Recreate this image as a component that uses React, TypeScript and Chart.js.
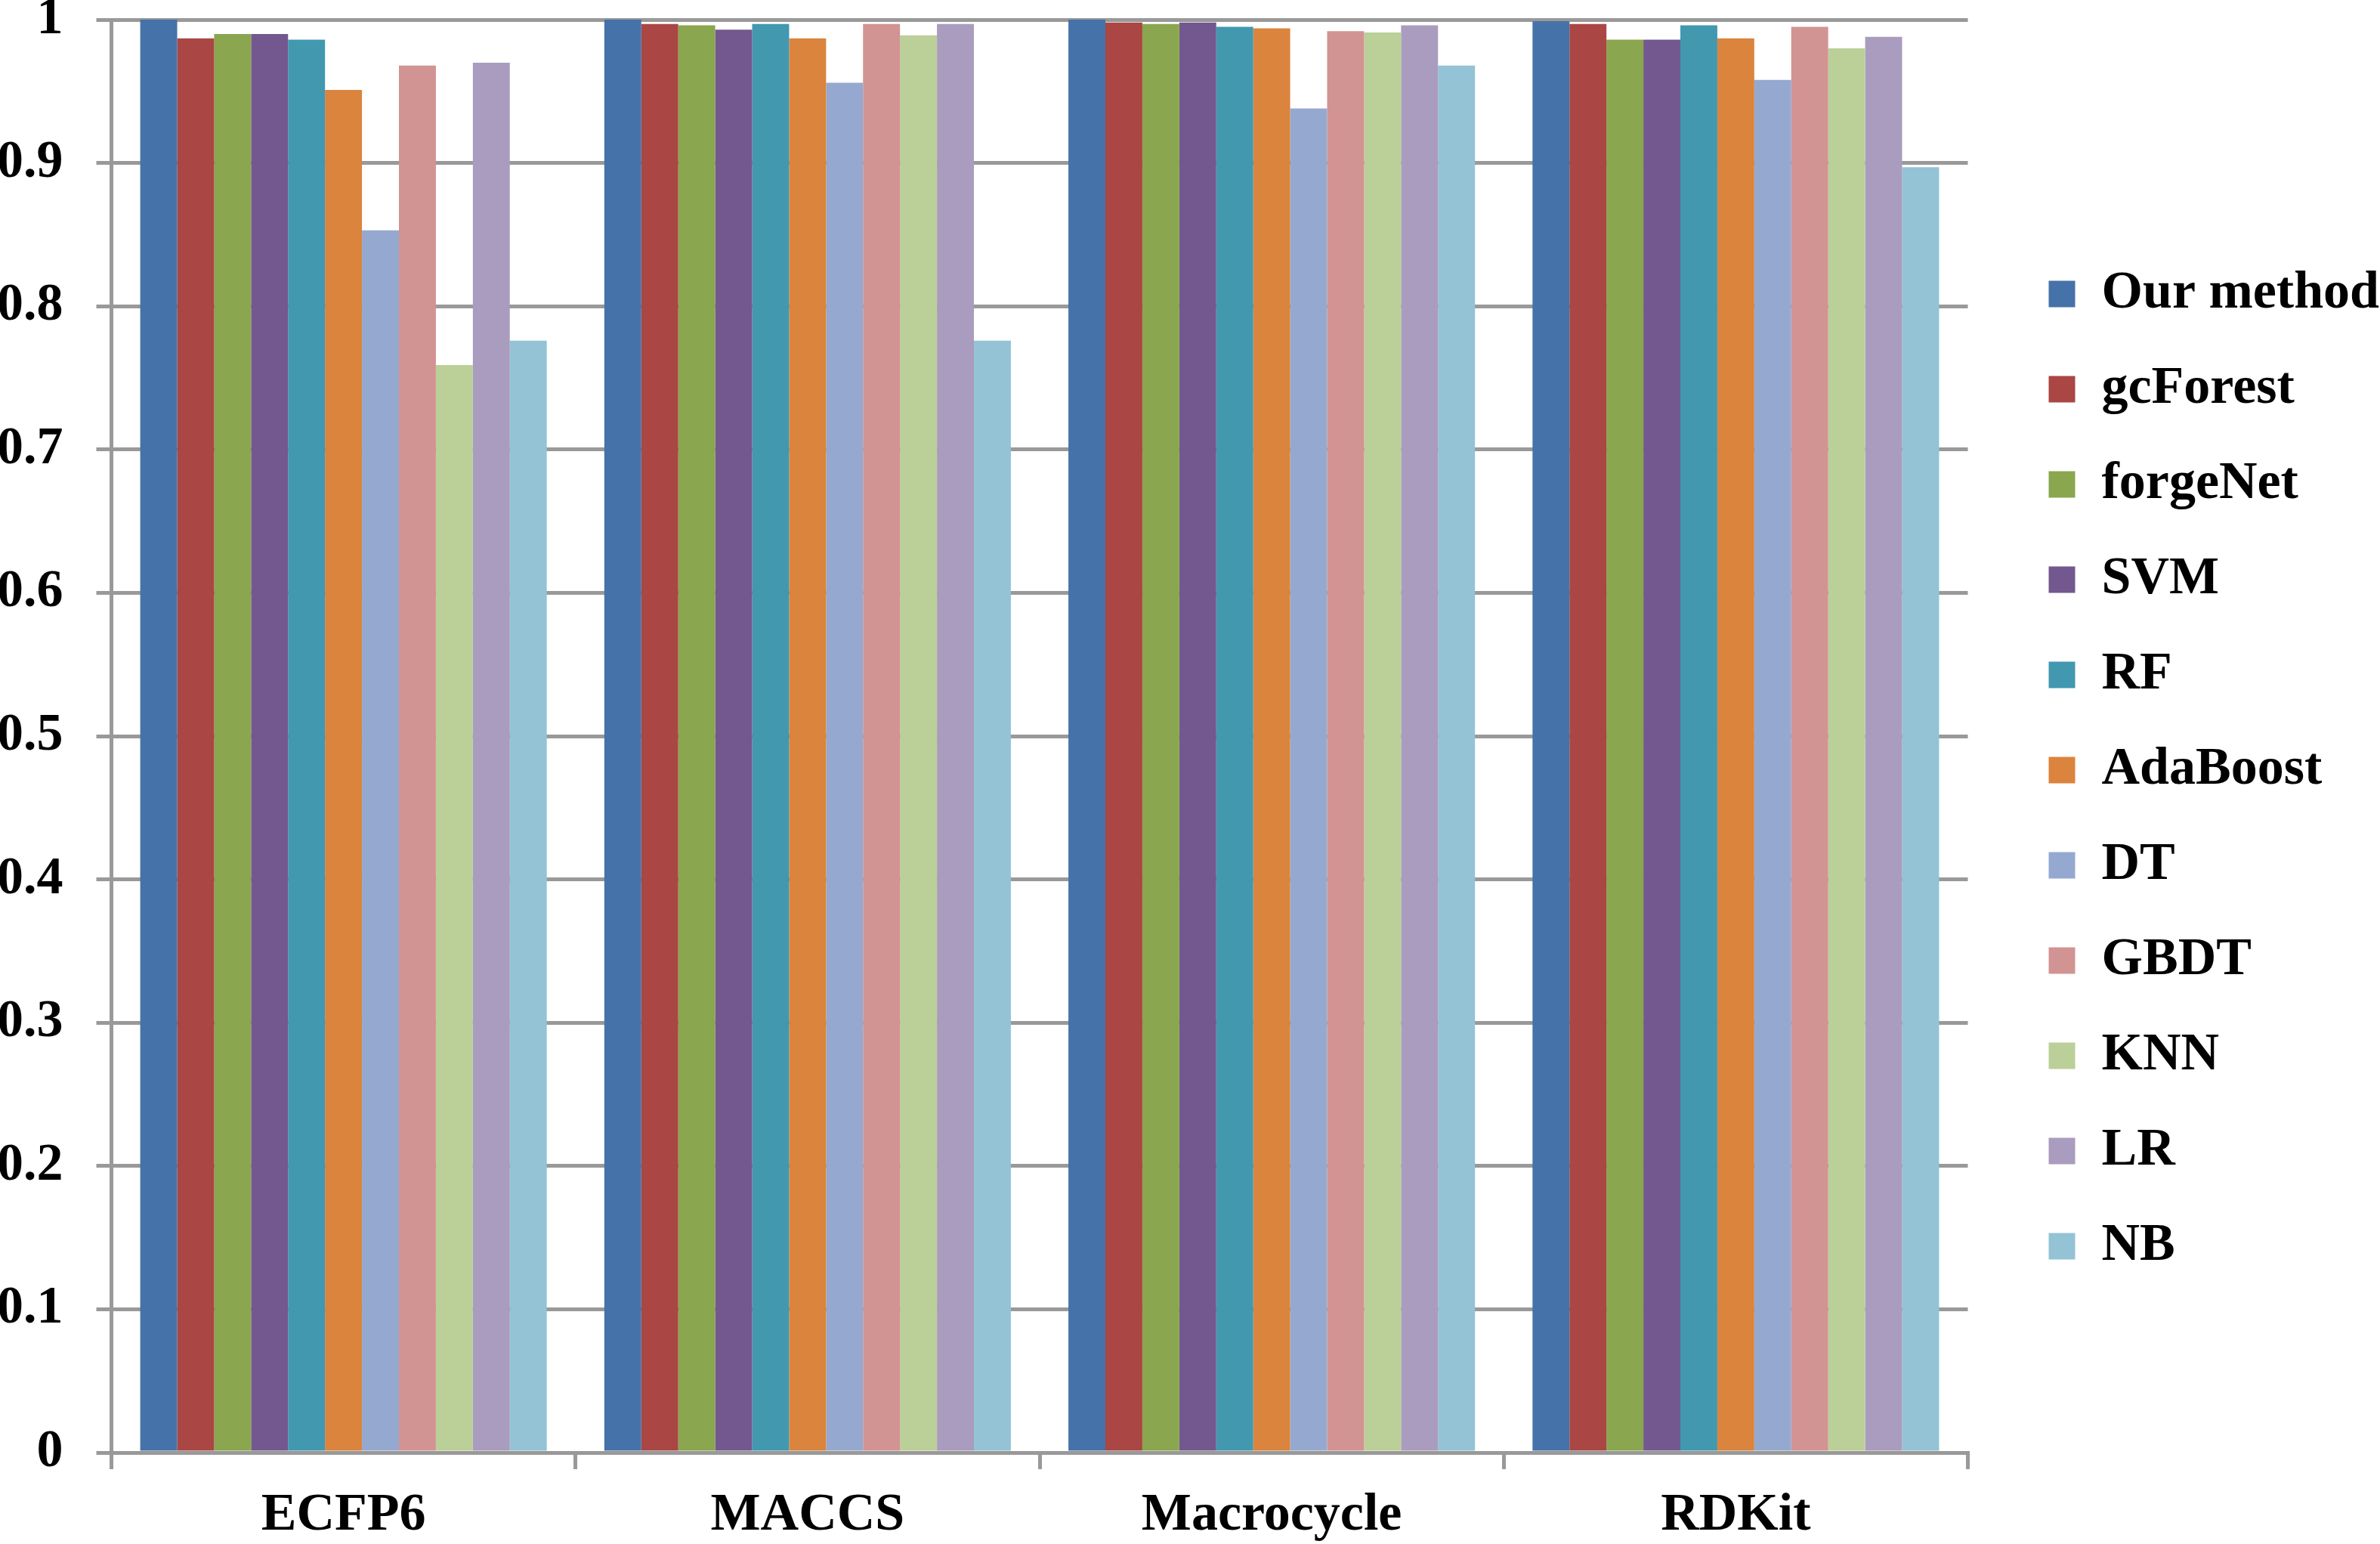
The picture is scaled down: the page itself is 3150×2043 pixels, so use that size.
import React, { useEffect, useRef } from "react";
import { Chart, registerables } from "chart.js";

Chart.register(...registerables);

const categories = ["ECFP6", "MACCS", "Macrocycle", "RDKit"];
const methods = ["Our method", "gcForest", "forgeNet", "SVM", "RF", "AdaBoost", "DT", "GBDT", "KNN", "LR", "NB"];

const ourMethod = [1.0, 1.0, 1.0, 0.999];
const gcForest = [0.987, 0.997, 0.998, 0.997];
const forgeNet = [0.99, 0.996, 0.997, 0.986];
const svm = [0.99, 0.993, 0.998, 0.986];
const rf = [0.986, 0.997, 0.995, 0.996];
const adaBoost = [0.951, 0.987, 0.994, 0.987];
const dt = [0.853, 0.956, 0.938, 0.958];
const gbdt = [0.968, 0.997, 0.992, 0.995];
const knn = [0.759, 0.989, 0.991, 0.98];
const lr = [0.97, 0.997, 0.996, 0.988];
const nb = [0.776, 0.776, 0.968, 0.897];

const seriesValues = [ourMethod, gcForest, forgeNet, svm, rf, adaBoost, dt, gbdt, knn, lr, nb];
const colors = ["#4572a8", "#aa4644", "#8aa64e", "#72588f", "#4198af", "#db843d", "#95a9d0", "#d29393", "#bbcf98", "#aa9cbe", "#93c3d5"];

const gray = "#999999";
const font = { family: "'Liberation Serif', 'Times New Roman', serif", size: 70, weight: "bold" as const };

const App = () => {
  const chartRef: any = useRef(null);
  const chartInstance: any = useRef(null);

  useEffect(() => {
    if (chartRef.current) {
      const ctx = chartRef.current.getContext("2d");
      chartInstance.current = new Chart(ctx, {
        type: "bar",
        data: {
          labels: categories,
          datasets: methods.map((m, i) => ({
            label: m,
            data: seriesValues[i],
            backgroundColor: colors[i],
            borderWidth: 0,
            categoryPercentage: 0.876,
            barPercentage: 1,
          })),
        },
        options: {
          responsive: true,
          maintainAspectRatio: false,
          animation: false,
          plugins: {
            tooltip: { enabled: false },
            legend: {
              position: "right",
              align: "center",
              // empty title only pushes the legend items down a bit
              title: { display: true, text: "", font: { size: 15 }, padding: 6 },
              labels: {
                font,
                color: "#000",
                boxWidth: 35,
                boxHeight: 35,
                padding: 56,
              },
            },
          },
          scales: {
            x: {
              grid: {
                drawOnChartArea: false,
                drawTicks: true,
                tickLength: 22,
                color: gray,
                lineWidth: 5,
              },
              border: { display: true, color: gray, width: 5 },
              ticks: { font, color: "#000", padding: 20, maxRotation: 0 },
            },
            y: {
              min: 0,
              max: 1,
              ticks: {
                stepSize: 0.1,
                font,
                color: "#000",
                padding: 44,
                callback: (v: any) => String(Number(Number(v).toFixed(1))),
              },
              grid: { color: gray, lineWidth: 5, tickLength: 20 },
              border: { display: true, color: gray, width: 5 },
            },
            y2: {
              position: "right",
              display: true,
              grid: { display: false },
              ticks: { display: false },
              border: { display: false },
              afterFit: (scale: any) => {
                scale.width = 51;
              },
            },
          },
        },
      });
    }

    return () => {
      if (chartInstance.current) {
        chartInstance.current.destroy();
      }
    };
  }, []);

  return (
    <div style={{ position: "fixed", left: -48, top: -60, width: 3207, height: 2128, background: "#fff" }}>
      <canvas ref={chartRef}></canvas>
    </div>
  );
};

export default App;
